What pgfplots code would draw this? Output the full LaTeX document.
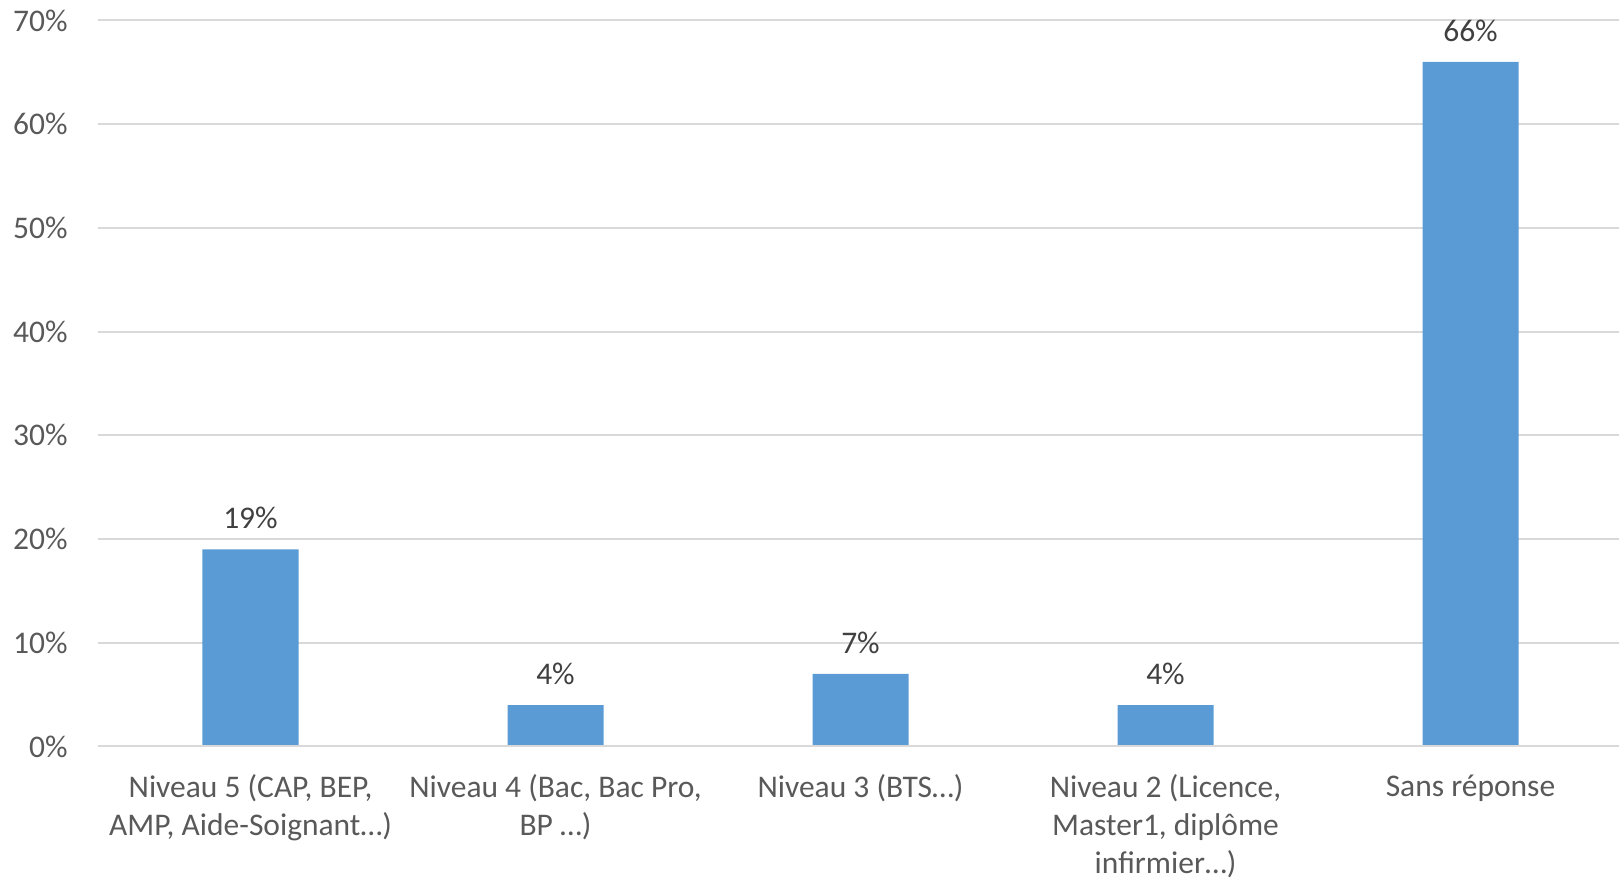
\documentclass[border=0pt]{standalone}
\usepackage{pgfplots}
\pgfplotsset{compat=1.18}
\usepackage{fontspec}
\setmainfont{Carlito}
\definecolor{barblue}{HTML}{5B9BD5}
\definecolor{ticktext}{HTML}{595959}
\definecolor{labeltext}{HTML}{404040}
\definecolor{gridc}{HTML}{D9D9D9}
\begin{document}
\begin{tikzpicture}
\begin{axis}[
  at={(0,0)}, anchor=south west,
  scale only axis,
  width=762.5pt, height=363pt,
  xmin=-0.5, xmax=4.5,
  ymin=0, ymax=70,
  ytick={0,10,20,30,40,50,60,70},
  yticklabel={\pgfmathprintnumber{\tick}\%},
  /pgf/number format/assume math mode=true,
  xtick={0,1,2,3,4},
  xticklabels={{Niveau 5 (CAP, BEP,\\AMP, Aide-Soignant…)},{Niveau 4 (Bac, Bac Pro,\\BP …)},{Niveau 3 (BTS…)},{Niveau 2 (Licence,\\Master1, diplôme\\infirmier…)},{Sans réponse}},
  xticklabel style={align=center, font=\fontsize{15.75}{19}\selectfont, text=ticktext, anchor=north, yshift=-10.7pt},
  yticklabel style={font=\fontsize{15.75}{19}\selectfont, text=ticktext, anchor=east, inner sep=0pt, xshift=-15pt},
  major tick length=0pt,
  ymajorgrids,
  grid style={gridc, line width=1pt},
  axis line style={draw=none},
  axis x line*=bottom,
  axis y line*=left,
  ybar,
  bar width=48pt,
  nodes near coords={\pgfmathprintnumber{\pgfplotspointmeta}\%},
  nodes near coords style={font=\fontsize{15.75}{19}\selectfont, text=labeltext, yshift=6.6pt},
]
\addplot[fill=barblue, draw=none] coordinates {(0,19) (1,4) (2,7) (3,4) (4,66)};
\draw[gridc, line width=1pt] (axis cs:-0.5,0) -- (axis cs:4.5,0);
\end{axis}
\pgfresetboundingbox
\path[use as bounding box] (-49pt,-67.25pt) rectangle (760.5pt,373.25pt);
\end{tikzpicture}
\end{document}
